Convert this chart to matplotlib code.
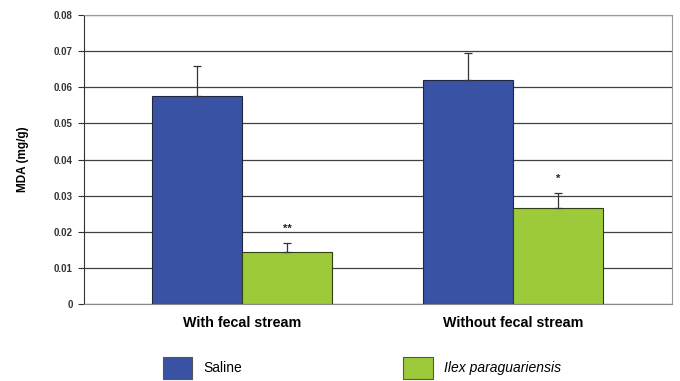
import numpy as np
import matplotlib.pyplot as plt

# Data
groups = ['With fecal stream', 'Without fecal stream']
saline = [0.0575, 0.0620]
saline_err = [0.0084, 0.0075]
ilex = [0.0144, 0.0266]
ilex_err = [0.0025, 0.0041]
signif = ['**', '*']
yticks = [0, 0.01, 0.02, 0.03, 0.04, 0.05, 0.06, 0.07, 0.08]
ytick_labels = ['0', '0.01', '0.02', '0.03', '0.04', '0.05', '0.06', '0.07', '0.08']

plt.rcParams['font.family'] = ['Liberation Sans', 'DejaVu Sans']

fig = plt.figure(figsize=(6.8, 3.81), dpi=100)
ax = fig.add_axes([0.1235, 0.2021, 0.8645, 0.7585])

x = np.arange(len(groups))
w = 0.332
blue = '#3A52A3'
green = '#9DCA3A'

b1 = ax.bar(x - w/2, saline, w, color=blue, edgecolor='#202840', linewidth=0.8,
            yerr=[np.zeros(len(saline)), saline_err], capsize=3,
            error_kw=dict(ecolor='#333333', elinewidth=0.9, capthick=0.9), zorder=3,
            label='Saline')
b2 = ax.bar(x + w/2, ilex, w, color=green, edgecolor='#2f3f10', linewidth=0.8,
            yerr=[np.zeros(len(ilex)), ilex_err], capsize=3,
            error_kw=dict(ecolor='#333333', elinewidth=0.9, capthick=0.9), zorder=3,
            label='Ilex paraguariensis')

# significance marks
for i in range(len(groups)):
    ax.text(x[i] + w/2, ilex[i] + ilex_err[i] + 0.0025, signif[i], ha='center', va='bottom',
            fontsize=8, fontweight='bold', color='#222222')

ax.set_xlim(-0.583, 1.587)
ax.set_ylim(0, 0.08)
ax.set_yticks(yticks)
ax.set_yticklabels(ytick_labels, fontsize=7, fontweight='bold', color='#333333')
ax.set_xticks(x)
ax.set_xticklabels(groups, fontsize=10.3, fontweight='bold')
ax.tick_params(axis='x', length=0, pad=9)
ax.tick_params(axis='y', length=4, width=0.8, color='#333333', pad=4)
ax.set_ylabel('MDA (mg/g)', fontsize=8.5, fontweight='bold', labelpad=18)

ax.yaxis.grid(True, color='#404040', linewidth=0.9, zorder=0)
ax.set_axisbelow(True)
for s in ['top', 'right', 'bottom']:
    ax.spines[s].set_color('#999999')
ax.spines['left'].set_color('#333333')
ax.spines['bottom'].set_color('#888888')

leg = fig.legend(handles=[b1, b2], loc='upper left', bbox_to_anchor=(0.24, 0.064),
                 ncol=2, frameon=False, fontsize=10, handlelength=2.1, handleheight=2.1,
                 handletextpad=0.8, columnspacing=11.6, borderpad=0, borderaxespad=0)
leg.get_texts()[1].set_fontstyle('italic')
for h in leg.legend_handles:
    h.set_edgecolor('#555555')

plt.savefig('out.png', dpi=100)
